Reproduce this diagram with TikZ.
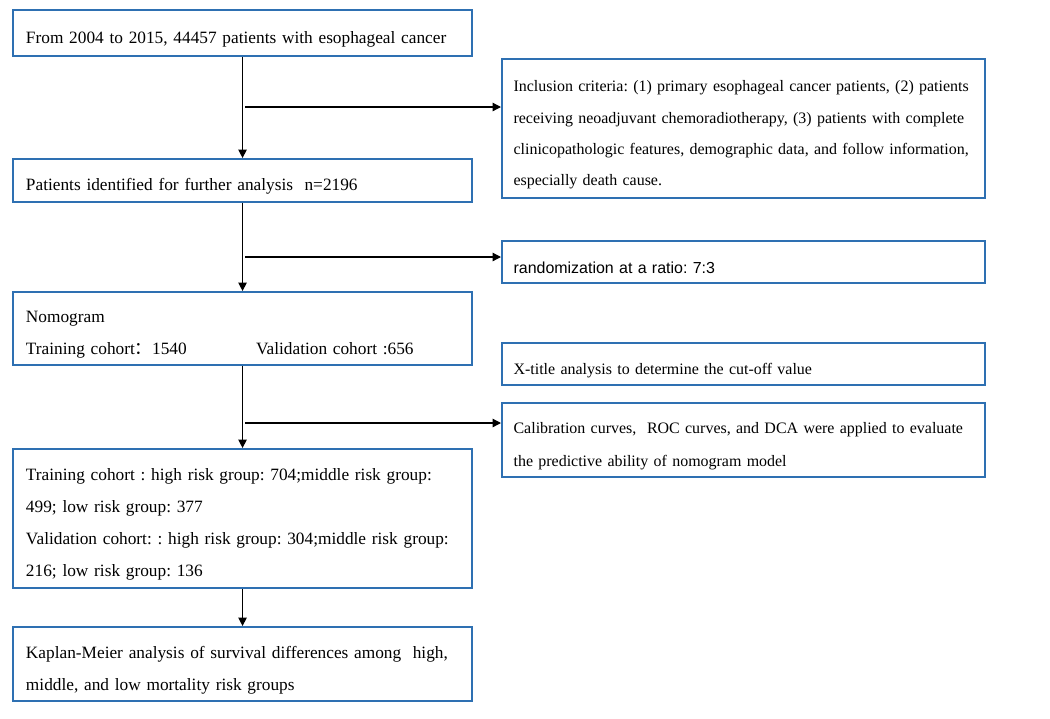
\documentclass[tikz,border=0pt]{standalone}
\usepackage{fontspec}
\setmainfont{Liberation Serif}
\newfontfamily\arialfont{Liberation Sans}
\newfontfamily\cjk{Noto Sans CJK SC}
\usetikzlibrary{calc,arrows.meta}
\definecolor{boxblue}{RGB}{46,112,178}
\frenchspacing
\hyphenpenalty=10000

\tikzset{
	flowbox/.style={draw=boxblue, line width=1.4pt, anchor=north west,
		align=left, inner sep=0pt, execute at begin node={\rule{0pt}{0.6cm}}},
	leftbox/.style={flowbox, minimum width=11.475cm, text width=10.825cm,
		font=\fontsize{12.3}{22.6}\selectfont},
	rightbox/.style={flowbox, minimum width=12.075cm, text width=11.495cm,
		font=\fontsize{11.35}{22.2}\selectfont},
	arr/.style={line width=0.9pt, -{Triangle[length=6pt,width=6pt]}}
}

\begin{document}
\begin{tikzpicture}[x=0.025cm, y=-0.025cm]
	\useasboundingbox (0,0) rectangle (1050,718);
	
	%left column
	\node[leftbox, minimum height=1.15cm] (start) at (12,9)
		{From 2004 to 2015, 44457 patients with esophageal cancer};
	\node[leftbox, minimum height=1.075cm] (ident) at (12,158)
		{Patients identified for further analysis\ \ n=2196};
	\node[leftbox, minimum height=1.825cm] (nomo) at (12,291)
		{Nomogram\\\makebox[5.75cm][l]{Training cohort{\cjk ：}1540}Validation cohort :656};
	\node[leftbox, minimum height=3.475cm] (risk) at (12,448)
		{Training cohort : high risk group: 704;middle risk group:\\
		499; low risk group: 377\\
		Validation cohort: : high risk group: 304;middle risk group:\\
		216; low risk group: 136};
	\node[leftbox, minimum height=1.85cm] (km) at (12,626)
		{Kaplan-Meier analysis of survival differences among\ \ high,\\
		middle, and low mortality risk groups};
	
	%right column
	\node[rightbox, minimum height=3.475cm] (incl) at (501,58)
		{Inclusion criteria: (1) primary esophageal cancer patients, (2) patients\\
		receiving neoadjuvant chemoradiotherapy, (3) patients with complete\\
		clinicopathologic features, demographic data, and follow information,\\
		especially death cause.};
	\node[rightbox, minimum height=1.05cm] (rand) at (501,240)
		{\arialfont randomization at a ratio: 7:3};
	\node[rightbox, minimum height=1.05cm] (xtile) at (501,342)
		{X-title analysis to determine the cut-off value};
	\node[rightbox, minimum height=1.85cm] (calib) at (501,402)
		{Calibration curves,\ \ ROC curves, and DCA were applied to evaluate\\[1.5pt]
		the predictive ability of nomogram model};
	
	%branch points
	\coordinate (b1) at (245,107);
	\coordinate (b2) at (245,257);
	\coordinate (b3) at (245,423);
	
	%Drawing arrows
	\draw[arr] (start.south) -- (ident.north);
	\draw[arr] (ident.south) -- (nomo.north);
	\draw[arr] (nomo.south) -- (risk.north);
	\draw[arr] (risk.south) -- (km.north);
	\draw[arr] (b1) -- (b1 -| incl.west);
	\draw[arr] (b2) -- (b2 -| rand.west);
	\draw[arr] (b3) -- (b3 -| calib.west);
	
\end{tikzpicture}
\end{document}
